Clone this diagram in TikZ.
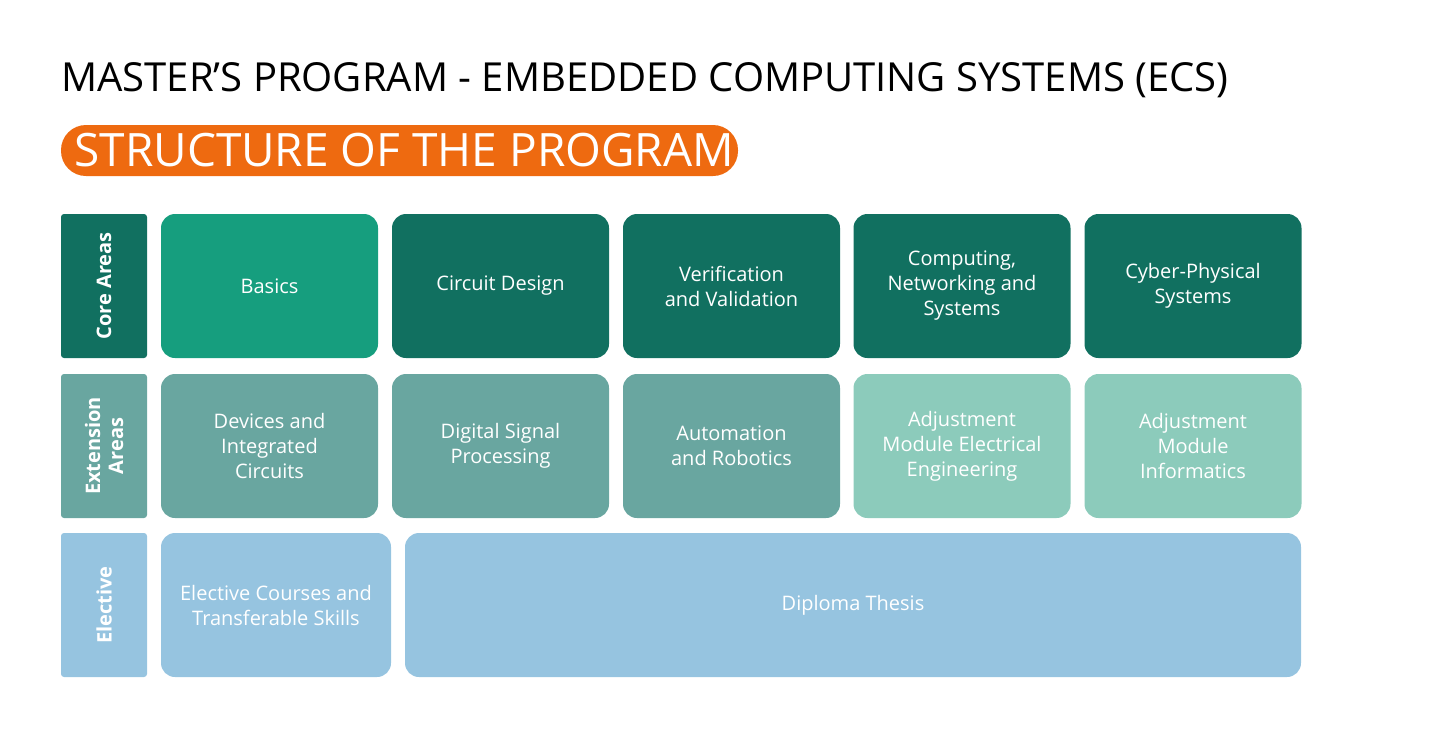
\documentclass[tikz,border=0pt]{standalone}
\usepackage{fontspec}
\setmainfont{Open Sans}
\usetikzlibrary{positioning}
\definecolor{ecsOrange}{HTML}{EE6A10}
\definecolor{ecsBasic}{HTML}{169E7E}
\definecolor{ecsDark}{HTML}{117060}
\definecolor{ecsExt}{HTML}{69A6A0}
\definecolor{ecsLight}{HTML}{8CCBBB}
\definecolor{ecsElect}{HTML}{96C4E0}
\tikzset{
  cell/.style={rounded corners=7pt, text=white, align=center, font=\fontsize{10}{12.5}\selectfont,
    minimum width=108.5pt, minimum height=72pt, inner sep=0pt},
  side/.style={rounded corners=1.5pt, text=white, align=center, rotate=90,
    font=\fontsize{10}{11.5}\selectfont\bfseries, minimum width=72pt, minimum height=43pt, inner sep=0pt}
}
\begin{document}
\begin{tikzpicture}[x=0.5pt,y=-0.5pt]
    \useasboundingbox (0,0) rectangle (1440,740);
    % Titles
    \node[anchor=base west, inner sep=0pt, font=\fontsize{20}{24}\selectfont] (Title) at (61,91)
      {MASTER’S PROGRAM - EMBEDDED COMPUTING SYSTEMS (ECS)};
    \node[fill=ecsOrange, rounded corners=12.5pt, minimum width=338.5pt, minimum height=25.5pt, inner sep=0pt] (Pill) at (399.5,150.5) {};
    \node[anchor=base west, inner sep=0pt, text=white, font=\fontsize{23}{26}\selectfont] (Sub) at (74,166) {STRUCTURE OF THE PROGRAM};

    % Row labels
    \node[side, fill=ecsDark] (CoreLbl) at (104,286) {Core Areas};
    \node[side, fill=ecsExt] (ExtLbl) at (104,446) {Extension\\Areas};
    \node[side, fill=ecsElect] (ElecLbl) at (104,605) {Elective};

    % Core areas
    \node[cell, fill=ecsBasic] (Basics) at (269.5,286) {Basics};
    \node[cell, fill=ecsDark] (Circuit) at (500.5,286) {Circuit Design};
    \node[cell, fill=ecsDark] (Verif) at (731.5,286) {Verification\\and Validation};
    \node[cell, fill=ecsDark] (Comp) at (962,286) {Computing,\\Networking and\\Systems};
    \node[cell, fill=ecsDark] (Cyber) at (1193,286) {Cyber-Physical\\Systems};

    % Extension areas
    \node[cell, fill=ecsExt] (Devices) at (269.5,446) {Devices and\\Integrated\\Circuits};
    \node[cell, fill=ecsExt] (DSP) at (500.5,446) {Digital Signal\\Processing};
    \node[cell, fill=ecsExt] (Auto) at (731.5,446) {Automation\\and Robotics};
    \node[cell, fill=ecsLight] (AdjEE) at (962,446) {Adjustment\\Module Electrical\\Engineering};
    \node[cell, fill=ecsLight] (AdjInf) at (1193,446) {Adjustment\\Module\\Informatics};

    % Elective
    \node[cell, fill=ecsElect, minimum width=115pt] (Electives) at (276,605) {Elective Courses and\\Transferable Skills};
    \node[cell, fill=ecsElect, minimum width=448pt] (Thesis) at (853,605) {Diploma Thesis};
\end{tikzpicture}
\end{document}
